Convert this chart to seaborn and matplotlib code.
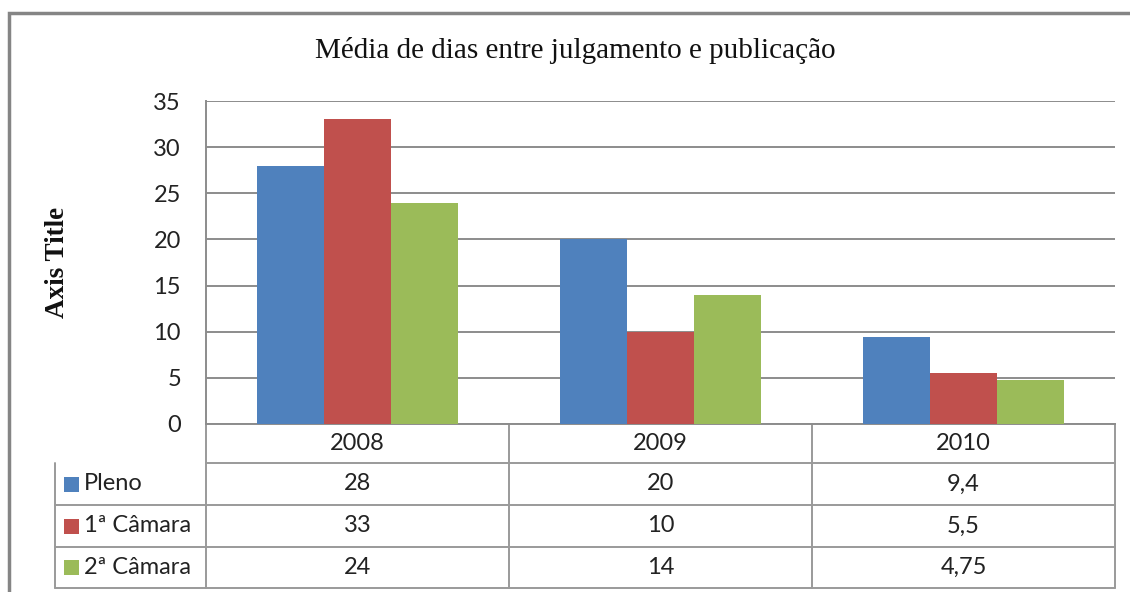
import matplotlib
matplotlib.use("Agg")
import matplotlib.pyplot as plt
import matplotlib.transforms as mtransforms
from matplotlib.patches import Rectangle
import seaborn as sns
import pandas as pd

# ---- data ----
years = ["2008", "2009", "2010"]
series = ["Pleno", "1ª Câmara", "2ª Câmara"]
pleno = [28, 20, 9.4]
camara1 = [33, 10, 5.5]
camara2 = [24, 14, 4.75]
table_text = {
    "Pleno": ["28", "20", "9,4"],
    "1ª Câmara": ["33", "10", "5,5"],
    "2ª Câmara": ["24", "14", "4,75"],
}
colors = ["#4F81BD", "#C0504D", "#9BBB59"]
title = "Média de dias entre julgamento e publicação"
ylabel = "Axis Title"
yticks = [0, 5, 10, 15, 20, 25, 30, 35]

rows = []
for s, vals in zip(series, [pleno, camara1, camara2]):
    for y, v in zip(years, vals):
        rows.append({"Ano": y, "Série": s, "Valor": v})
df = pd.DataFrame(rows)

sns.set_theme(style="white")
plt.rcParams["font.family"] = ["Lato", "DejaVu Sans"]

W, H = 1130, 592
fig = plt.figure(figsize=(W / 100, H / 100), dpi=100)
ax_l, ax_r, ax_t, ax_b = 206, 1115, 101, 424
ax = fig.add_axes([ax_l / W, 1 - ax_b / H, (ax_r - ax_l) / W, (ax_b - ax_t) / H])

sns.barplot(data=df, x="Ano", y="Valor", hue="Série", hue_order=series,
            order=years, palette=colors, width=0.663, saturation=1,
            edgecolor="none", linewidth=0, legend=False, ax=ax, zorder=3)

fs = 17
ax.set_xlim(-0.5, 2.5)
ax.set_ylim(0, 35)
ax.set_yticks(yticks)
ax.set_yticklabels([str(t) for t in yticks], fontsize=fs, color="#222222")
ax.tick_params(axis="y", length=0, pad=18)
ax.set_xticks([])
ax.set_xlabel("")
ax.set_ylabel("")
ax.grid(axis="y", color="#8C8C8C", linewidth=1.4, zorder=0)
ax.set_axisbelow(True)
for side in ["top", "right"]:
    ax.spines[side].set_visible(False)
for side in ["left", "bottom"]:
    ax.spines[side].set_color("#8C8C8C")
    ax.spines[side].set_linewidth(1.4)

# title and axis title
fig.text(575 / W, 1 - 51 / H, title, ha="center", va="center",
         fontsize=21, family="Liberation Serif", color="#111111")
fig.text(57 / W, 1 - 262 / H, ylabel, ha="center", va="center", rotation=90,
         fontsize=19.5, family="Liberation Serif", fontweight="bold", color="#111111")

# ---- data table below the axes ----
ph = ax_b - ax_t
pw = ax_r - ax_l
def ay(py):  # pixel y -> axes fraction
    return (ax_b - py) / ph
def axx(px):
    return (px - ax_l) / pw

row_lines = [424, 463, 505, 547, 588]
tcol = "#9A9A9A"
lw = 1.4
trA = ax.transAxes
trB = mtransforms.blended_transform_factory(ax.transData, ax.transAxes)

# horizontal lines
ax.plot([0, 1], [ay(463)] * 2, transform=trA, color=tcol, lw=lw, clip_on=False)
for py in row_lines[2:]:
    ax.plot([axx(55), 1], [ay(py)] * 2, transform=trA, color=tcol, lw=lw, clip_on=False)
# vertical lines
ax.plot([0, 0], [ay(424), ay(588)], transform=trA, color=tcol, lw=lw, clip_on=False)
ax.plot([1, 1], [ay(424), ay(588)], transform=trA, color=tcol, lw=lw, clip_on=False)
ax.plot([axx(55)] * 2, [ay(463), ay(588)], transform=trA, color=tcol, lw=lw, clip_on=False)
for xb in [0.5, 1.5]:
    ax.plot([xb, xb], [ay(424), ay(588)], transform=trB, color=tcol, lw=lw, clip_on=False)

# header
for i, yr in enumerate(years):
    ax.text(i, ay(443.5), yr, transform=trB, ha="center", va="center",
            fontsize=fs, color="#222222")
# rows
for r, s in enumerate(series):
    yc = ay((row_lines[r + 1] + row_lines[r + 2]) / 2)
    for i, txt in enumerate(table_text[s]):
        ax.text(i, yc, txt, transform=trB, ha="center", va="center",
                fontsize=fs, color="#222222")
    ax.add_patch(Rectangle((axx(64), yc - 7.5 / ph), 15 / pw, 15 / ph,
                           transform=trA, facecolor=colors[r], edgecolor="none",
                           clip_on=False))
    ax.text(axx(84), yc, s, transform=trA, ha="left", va="center",
            fontsize=fs, color="#222222")

# outer chart frame
fig.patches.append(Rectangle((9 / W, -0.05), 1.2, 1 - 13 / H + 0.05,
                             transform=fig.transFigure, fill=False,
                             edgecolor="#858585", linewidth=2.5))

fig.savefig("out.png", dpi=100, facecolor="white")
